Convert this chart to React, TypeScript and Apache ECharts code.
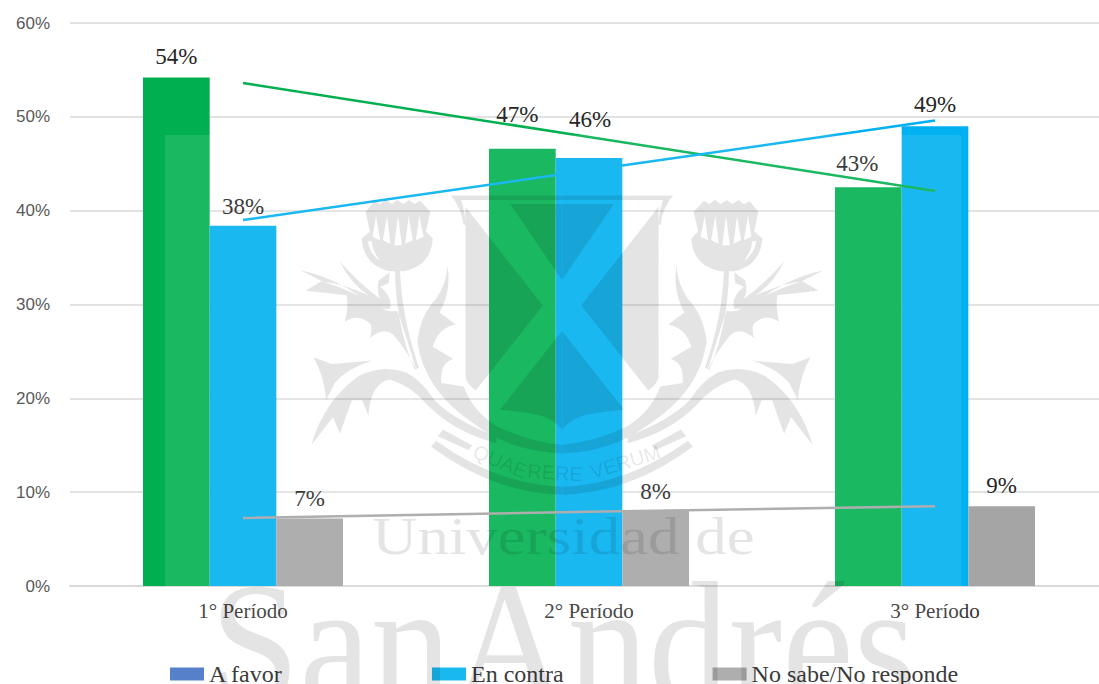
import React, { useEffect, useRef } from "react";
import * as echarts from "echarts";

const categories = ["1° Período", "2° Período", "3° Período"];
const aFavor = [54.2, 46.6, 42.5];
const enContra = [38.4, 45.6, 49.0];
const noSabe = [7.2, 8.0, 8.5];
const trendFavor = [53.6, 47.85, 42.1];
const trendContra = [39.0, 44.3, 49.6];
const trendNoSabe = [7.25, 7.9, 8.5];
const yTicks = [0, 10, 20, 30, 40, 50, 60];

const labelShiftFavor = [[0, -4], [-5, -18], [-11, -7]];
const labelShiftContra = [[0, -3], [1, -22], [0, -5]];
const labelShiftNoSabe = [[0, -3], [0, -3], [0, -4]];

const SERIF = "Liberation Serif";
const SANS = "Liberation Sans";
const WM = "rgba(0,0,0,0.105)";

const halfCrest = [
  // thistle head
  "M220 92 L245 62 L262 70 L278 58 L295 70 L312 58 L329 70 L346 58 L362 70 L378 60 L408 92 L395 150 L415 170 Q410 250 330 265 L290 265 Q215 250 208 170 L232 150 Z",
  "M250 105 L240 165 L262 175 Z M282 105 L270 175 L292 185 Z M314 105 L303 190 L325 190 Z M345 105 L335 185 L357 175 Z M376 105 L366 175 L388 165 Z",
  "M226 178 Q232 215 262 235 Q238 205 238 178 Z",
  // stem
  "M305 265 L320 265 Q325 400 375 545 L362 552 Q308 420 305 265 Z",
  // upper leaves
  "M30 262 Q90 275 135 298 Q200 330 245 372 L290 375 Q300 340 262 310 L287 300 L290 268 L258 292 Q250 322 262 345 Q200 300 145 237 Q175 300 228 335 Q150 300 90 295 L45 322 L165 335 Q170 370 160 412 Q200 385 235 420 Q240 445 230 462 Q270 425 300 450 Q340 495 368 555 Q330 430 312 380 Q290 385 270 375 Q180 320 95 295 Z",
  // lower leaf
  "M68 515 L122 535 L240 525 Q170 545 130 590 L105 640 Q100 570 68 515 Z",
  "M62 770 Q100 640 200 570 Q270 535 340 560 Q385 585 420 640 Q480 700 600 745 L600 765 Q480 735 400 655 Q355 600 290 580 Q235 590 228 685 L210 640 L180 640 L145 738 L125 690 Z",
  // curved inner blade
  "M458 250 Q470 320 435 385 L482 420 Q430 430 415 485 L475 520 Q435 530 440 590 L505 600 Q530 670 600 715 Q690 760 790 770 L790 795 Q640 790 530 705 Q390 610 370 470 Q380 390 425 345 Q455 300 458 250 Z",
  // ribbon
  "M410 775 L425 758 Q600 885 790 892 L790 915 Q590 910 410 775 Z",
  "M430 745 L445 725 L530 772 L518 785 Z",
  // shield
  "M468 45 L790 45 L790 58 L497 58 Q510 95 510 130 L504 130 Q500 85 468 45 Z",
  "M640 70 L790 70 L790 290 Z",
  "M510 78 L735 365 L540 612 Q510 590 510 570 Z",
  "M790 440 L610 668 Q690 675 730 685 Q770 698 790 725 Z",
].join(" ");

echarts.graphic.registerShape("crestHalfPath", echarts.graphic.extendPath(halfCrest, {}) as any);

const labelFont = { fontFamily: SERIF, fontSize: 23, color: "#262626" };

const bar = (name: string, values: number[], color: string, shifts: number[][]) => ({
  name,
  type: "bar",
  data: values.map((value, i) => ({ value, label: { ...labelFont, offset: shifts[i] } })),
  itemStyle: { color },
  barGap: 0,
  barCategoryGap: "42.2%",
  label: {
    show: true,
    position: "top",
    distance: 5,
    ...labelFont,
    formatter: (p: any) => Math.round(p.value) + "%",
  },
});

const trend = (name: string, values: number[], color: string) => ({
  name,
  type: "line",
  data: values,
  symbol: "none",
  lineStyle: { color, width: 2.5 },
  z: 5,
});

export default function App() {
  const ref = useRef<HTMLDivElement>(null);
  useEffect(() => {
    document.body.style.margin = "0";
    const chart = echarts.init(ref.current!, null, { renderer: "svg" });
    chart.setOption({
      animation: false,
      backgroundColor: "#fff",
      grid: { left: 70, right: 0, top: 23, bottom: 98, containLabel: false },
      legend: {
        show: true,
        left: 170,
        top: 662,
        itemWidth: 34,
        itemHeight: 13,
        itemGap: 149,
        padding: 0,
        textStyle: { fontFamily: SERIF, fontSize: 24, lineHeight: 20, color: "#262626", padding: [-3, 0, 0, 0] },
        icon: "rect",
        data: [
          { name: "A favor", itemStyle: { color: "#4472C4" } },
          { name: "En contra" },
          { name: "No sabe/No responde" },
        ],
      },
      xAxis: {
        type: "category",
        data: categories,
        axisTick: { show: false },
        axisLine: { lineStyle: { color: "#D9D9D9", width: 2 } },
        axisLabel: { fontFamily: SERIF, fontSize: 21, color: "#333", margin: 14 },
      },
      yAxis: {
        type: "value",
        min: yTicks[0],
        max: yTicks[yTicks.length - 1],
        interval: 10,
        axisLabel: { fontFamily: SANS, fontSize: 17, color: "#595959", margin: 20, formatter: "{value}%" },
        splitLine: { lineStyle: { color: "#D9D9D9", width: 1.5 } },
      },
      series: [
        bar("A favor", aFavor, "#00B050", labelShiftFavor),
        bar("En contra", enContra, "#00B0F0", labelShiftContra),
        bar("No sabe/No responde", noSabe, "#A5A5A5", labelShiftNoSabe),
        trend("Lineal (A favor)", trendFavor, "#00B050"),
        trend("Lineal (En contra)", trendContra, "#00B0F0"),
        trend("Lineal (No sabe/No responde)", trendNoSabe, "#A5A5A5"),
      ],
      graphic: [
        { type: "rect", silent: true, z: 100, shape: { x: 165, y: 135, width: 796, height: 549 }, style: { fill: "rgba(255,255,255,0.1)" } },
        { type: "crestHalfPath", silent: true, z: 101, x: 290, y: 180, scaleX: 1 / 2.904, scaleY: 1 / 2.904, style: { fill: WM } },
        { type: "crestHalfPath", silent: true, z: 101, x: 834, y: 180, scaleX: -1 / 2.904, scaleY: 1 / 2.904, style: { fill: WM } },
        { type: "text", silent: true, z: 101, x: 478, y: 441, rotation: -0.4, style: { text: "QUAE", font: `20px ${SANS}`, fill: WM } },
        { type: "text", silent: true, z: 101, x: 528, y: 461, rotation: -0.06, style: { text: "RERE", font: `20px ${SANS}`, fill: WM } },
        { type: "text", silent: true, z: 101, x: 588, y: 463, rotation: 0.3, style: { text: "VERUM", font: `20px ${SANS}`, fill: WM } },
        { type: "text", silent: true, z: 101, x: 372, y: 510, scaleX: 1.21, style: { text: "Universidad de", font: `52px ${SERIF}`, fill: WM } },
        { type: "text", silent: true, z: 101, x: 210, y: 556, scaleX: 0.92, style: { text: "SanAndrés", font: `175px ${SERIF}`, fill: WM } },
      ],
    });
    return () => chart.dispose();
  }, []);
  return (
    <div style={{ width: 1099, height: 684, position: "absolute", left: 0, top: 0, overflow: "hidden" }}>
      <div ref={ref} style={{ width: 1108, height: 684 }} />
    </div>
  );
}
